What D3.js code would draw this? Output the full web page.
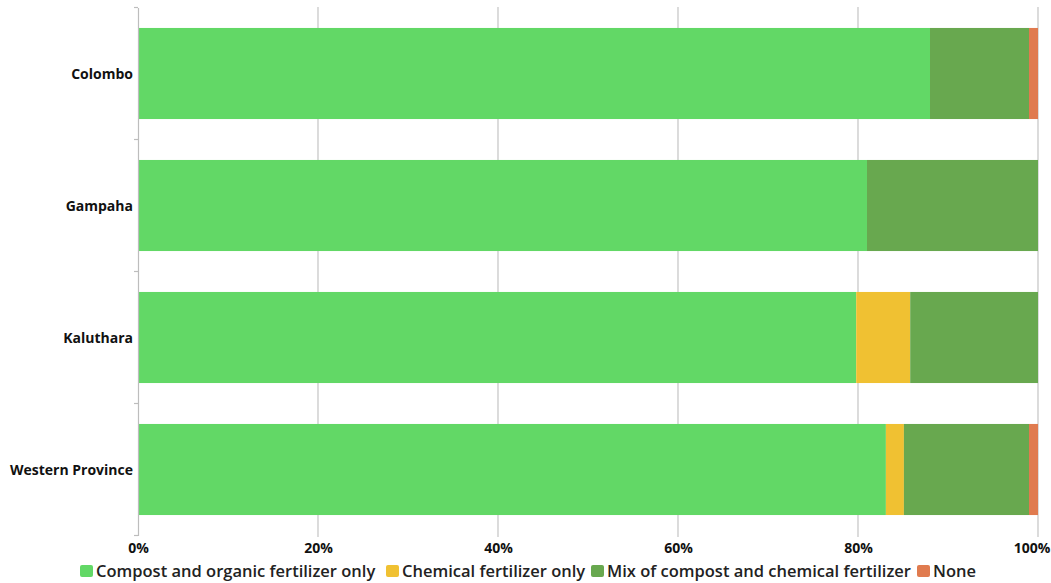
<!DOCTYPE html>
<html><head><meta charset="utf-8">
<script src="https://cdn.jsdelivr.net/npm/d3@7"></script>
<style>
html,body{margin:0;padding:0;background:#fff;overflow:hidden;}
svg{display:block;}
</style></head>
<body>
<svg id="chart" width="1051" height="583"></svg>
<script>
const categories = ["Colombo", "Gampaha", "Kaluthara", "Western Province"];
const seriesNames = ["Compost and organic fertilizer only", "Chemical fertilizer only", "Mix of compost and chemical fertilizer", "None"];
const compostOnly = [88.0, 81.0, 79.8, 83.1];
const chemicalOnly = [0, 0, 6.0, 2.0];
const mixBoth = [11.0, 19.0, 14.2, 13.9];
const none = [1.0, 0, 0, 1.0];
const tickValues = [0, 20, 40, 60, 80, 100];
const colors = ["#62d866", "#f0c132", "#68a84f", "#e07b4f"];

const seriesValues = [compostOnly, chemicalOnly, mixBoth, none];
const data = categories.map((c, i) => {
  const o = {category: c};
  seriesNames.forEach((s, j) => o[s] = seriesValues[j][i]);
  return o;
});

const svg = d3.select("#chart");
const font = "'Open Sans', sans-serif";
const x = d3.scaleLinear().domain([0, 100]).range([138, 1038]);
const y = d3.scaleBand().domain(categories).range([7.5, 535.5]).paddingInner(0.31).paddingOuter(0.155);

// gridlines
svg.append("g").selectAll("line").data(tickValues.slice(1)).join("line")
  .attr("x1", d => x(d)).attr("x2", d => x(d))
  .attr("y1", 7).attr("y2", 537)
  .attr("stroke", "#c4c4c4").attr("stroke-width", 1.2);

const stack = d3.stack().keys(seriesNames)(data);
svg.append("g").selectAll("g").data(stack).join("g")
  .attr("fill", (d, i) => colors[i])
  .selectAll("rect").data(d => d).join("rect")
  .attr("x", d => x(d[0]))
  .attr("width", d => Math.max(0, x(d[1]) - x(d[0])))
  .attr("y", d => y(d.data.category))
  .attr("height", y.bandwidth());

// y axis
const yAxis = d3.axisLeft(y).tickSize(0).tickPadding(5);
const yg = svg.append("g").attr("transform", "translate(138,0)").call(yAxis);
yg.select(".domain").attr("stroke", "#bdbdbd").attr("stroke-width", 1.2);
yg.selectAll("text").attr("font-family", font).attr("font-weight", "bold")
  .attr("font-size", 14).attr("fill", "#111").attr("dy", "0.4em");
// category boundary ticks
const bounds = [7.5].concat(categories.map(c => y(c) + y.bandwidth() + y.step()*y.paddingInner()/2));
bounds[bounds.length-1] = 535.5;
yg.selectAll("line.bnd").data(bounds).join("line").attr("class","bnd")
  .attr("x1", -4).attr("x2", 0).attr("y1", d => d).attr("y2", d => d)
  .attr("stroke", "#bdbdbd").attr("stroke-width", 1.2);

// x axis
const xAxis = d3.axisBottom(x).tickValues(tickValues).tickFormat(d => d + "%").tickSize(0).tickPadding(6);
const xg = svg.append("g").attr("transform", "translate(0,537)").call(xAxis);
xg.select(".domain").remove();
xg.selectAll("text").attr("font-family", font).attr("font-weight", "bold")
  .attr("font-size", 14).attr("fill", "#111");
// keep the last label inside the picture
xg.selectAll(".tick").filter(d => d === 100).select("text")
  .attr("text-anchor", "end").attr("x", 1050 - x(100));

// legend
const legendX = [80, 386, 591, 917];
const lg = svg.append("g");
seriesNames.forEach((s, i) => {
  lg.append("rect").attr("x", legendX[i]).attr("y", 565).attr("width", 13).attr("height", 12)
    .attr("rx", 2).attr("fill", colors[i]);
  lg.append("text").attr("x", legendX[i] + 16).attr("y", 577)
    .attr("font-family", font).attr("font-weight", "600").attr("font-size", 16.5)
    .attr("fill", "#222").text(s);
});
</script>
</body></html>
